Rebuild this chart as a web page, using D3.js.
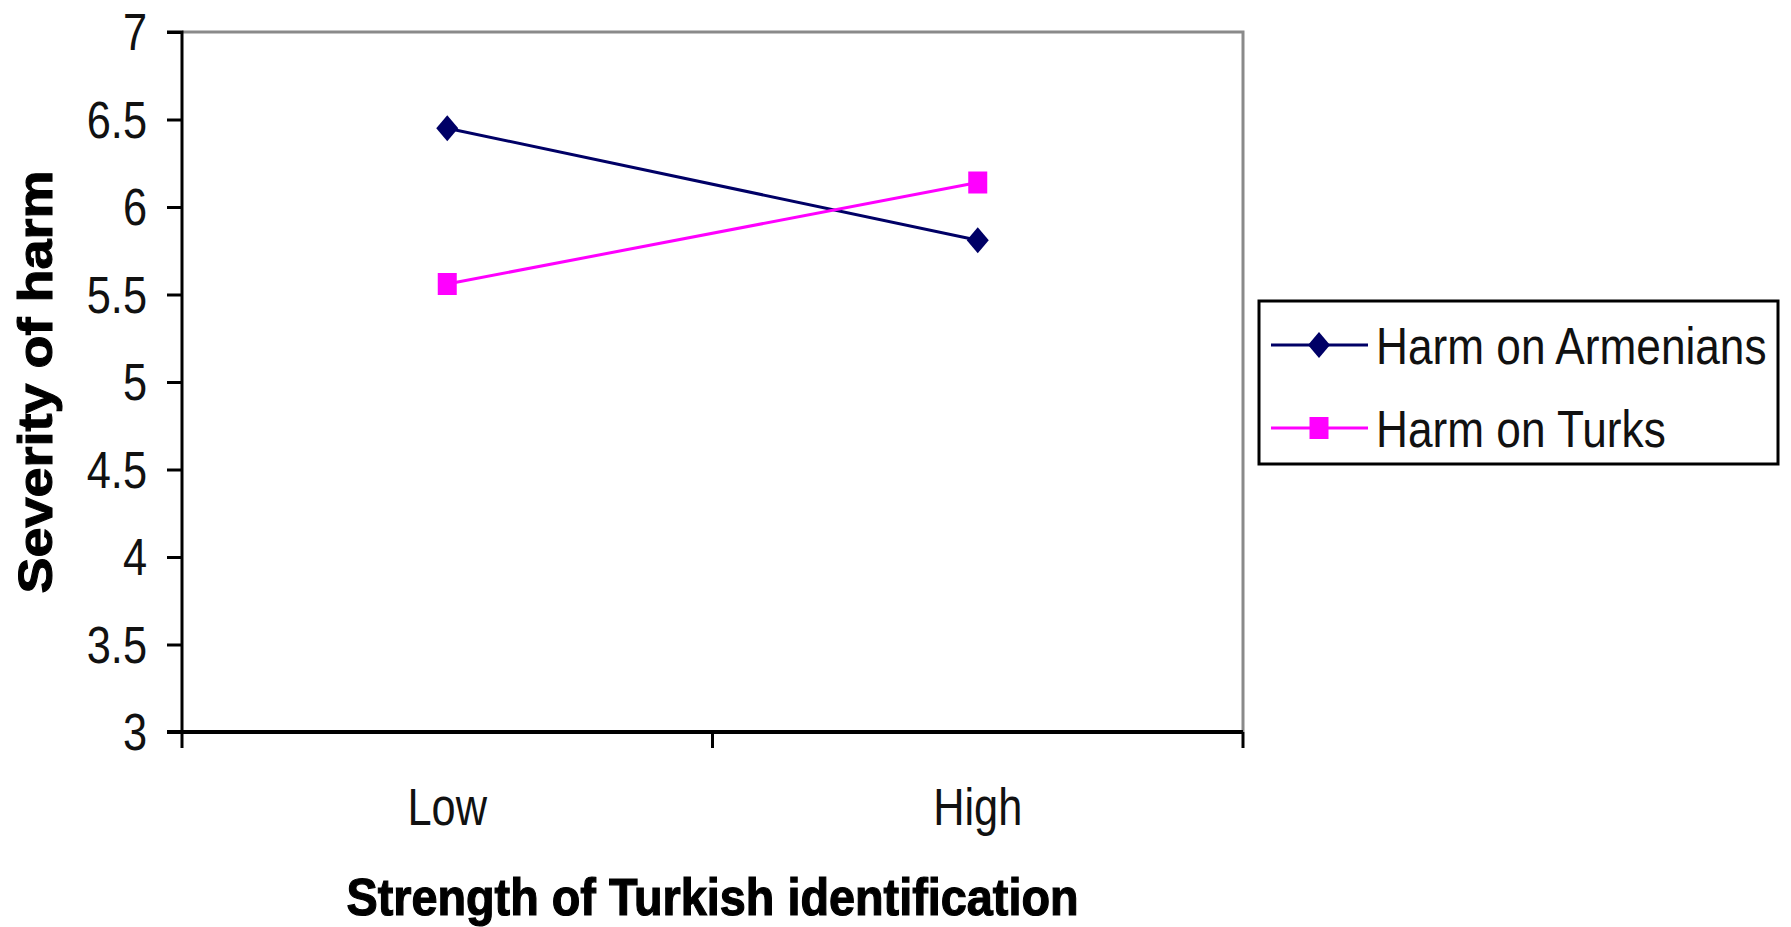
<!DOCTYPE html>
<html>
<head>
<meta charset="utf-8">
<script src="https://cdn.jsdelivr.net/npm/d3@7"></script>
<style>
  body { margin: 0; background: #fff; }
  svg { display: block; font-family: "Liberation Sans", Arial, sans-serif; }
</style>
</head>
<body>
<div id="chart"></div>
<script>
const categories = ['Low', 'High'];
const seriesNames = ['Harm on Armenians', 'Harm on Turks'];
const armenians = [6.45, 5.81];
const turks = [5.56, 6.14];
const yTicks = [3, 3.5, 4, 4.5, 5, 5.5, 6, 6.5, 7];

const W = 1791, H = 927;
const plot = { left: 182, top: 32, right: 1243, bottom: 732 };
const NARROW = 0.85; // text in the picture is horizontally squeezed

const series = [
  { name: seriesNames[0], values: armenians, color: '#000066', marker: 'diamond' },
  { name: seriesNames[1], values: turks, color: '#FF00FF', marker: 'square' },
];

const svg = d3.select('#chart').append('svg')
  .attr('width', W)
  .attr('height', H);

const x = d3.scaleBand().domain(categories).range([plot.left, plot.right]);
const y = d3.scaleLinear().domain([3, 7]).range([plot.bottom, plot.top]);

// Frame (top / right in grey)
svg.append('path')
  .attr('d', `M${plot.left},${plot.top}H${plot.right}V${plot.bottom}`)
  .attr('fill', 'none')
  .attr('stroke', '#8a8a8a')
  .attr('stroke-width', 3);

// Y axis
const yAxis = svg.append('g')
  .attr('transform', `translate(${plot.left},0)`)
  .call(d3.axisLeft(y).tickValues(yTicks).tickSize(15).tickFormat(d => String(d)));
yAxis.select('.domain').attr('stroke', '#000').attr('stroke-width', 3).attr('d', `M-15,${plot.top}H0V${plot.bottom}`);
yAxis.selectAll('.tick line').attr('stroke', '#000').attr('stroke-width', 3);
yAxis.selectAll('.tick text')
  .attr('x', -35 / NARROW)
  .attr('dy', '0.35em')
  .attr('transform', `scale(${NARROW},1)`)
  .attr('font-size', 51)
  .attr('font-family', '"Liberation Sans", Arial, sans-serif')
  .attr('fill', '#111');

// X axis: ticks sit between the categories
const xAxis = svg.append('g');
xAxis.append('line')
  .attr('x1', plot.left - 15).attr('x2', plot.right)
  .attr('y1', plot.bottom).attr('y2', plot.bottom)
  .attr('stroke', '#000').attr('stroke-width', 4);
const edges = categories.map(c => x(c)).concat([x.range()[1]]);
xAxis.selectAll('line.tick')
  .data(edges)
  .join('line')
  .attr('class', 'tick')
  .attr('x1', d => d).attr('x2', d => d)
  .attr('y1', plot.bottom).attr('y2', plot.bottom + 16)
  .attr('stroke', '#000').attr('stroke-width', 3);
xAxis.selectAll('text')
  .data(categories)
  .join('text')
  .attr('transform', d => `translate(${x(d) + x.bandwidth() / 2},${plot.bottom + 93}) scale(${NARROW},1)`)
  .attr('text-anchor', 'middle')
  .attr('font-size', 51)
  .attr('fill', '#111')
  .text(d => d);

// Axis titles (heavy bold)
svg.append('text')
  .attr('transform', `translate(${(plot.left + plot.right) / 2},915) scale(0.9,1)`)
  .attr('text-anchor', 'middle')
  .attr('font-size', 52)
  .attr('font-weight', 'bold')
  .attr('fill', '#000')
  .attr('stroke', '#000')
  .attr('stroke-width', 1.2)
  .text('Strength of Turkish identification');

svg.append('text')
  .attr('transform', `translate(52,${(plot.top + plot.bottom) / 2}) scale(0.9,1) rotate(-90)`)
  .attr('text-anchor', 'middle')
  .attr('font-size', 54)
  .attr('font-weight', 'bold')
  .attr('fill', '#000')
  .attr('stroke', '#000')
  .attr('stroke-width', 1.2)
  .text('Severity of harm');

// Markers
function drawMarker(sel, kind, color) {
  if (kind === 'diamond') {
    sel.append('path')
      .attr('d', 'M0,-13L11,0L0,13L-11,0Z')
      .attr('fill', color);
  } else {
    sel.append('rect')
      .attr('x', -9.5).attr('y', -11)
      .attr('width', 19).attr('height', 22)
      .attr('fill', color);
  }
}

const line = d3.line()
  .x((d, i) => x(categories[i]) + x.bandwidth() / 2)
  .y(d => y(d));

series.forEach(s => {
  svg.append('path')
    .datum(s.values)
    .attr('d', line)
    .attr('fill', 'none')
    .attr('stroke', s.color)
    .attr('stroke-width', 3);
  s.values.forEach((v, i) => {
    const g = svg.append('g')
      .attr('transform', `translate(${x(categories[i]) + x.bandwidth() / 2},${y(v)})`);
    drawMarker(g, s.marker, s.color);
  });
});

// Legend
const legend = svg.append('g');
legend.append('rect')
  .attr('x', 1259).attr('y', 301)
  .attr('width', 519).attr('height', 163)
  .attr('fill', '#fff')
  .attr('stroke', '#000')
  .attr('stroke-width', 3);

series.forEach((s, i) => {
  const row = legend.append('g').attr('transform', `translate(0,${345 + i * 83})`);
  row.append('line')
    .attr('x1', 1271).attr('x2', 1368)
    .attr('stroke', s.color).attr('stroke-width', 3);
  drawMarker(row.append('g').attr('transform', 'translate(1319,0)'), s.marker, s.color);
  row.append('text')
    .attr('transform', `translate(1376,0) scale(${NARROW},1)`)
    .attr('dy', '0.36em')
    .attr('font-size', 52)
    .attr('fill', '#111')
    .text(s.name);
});
</script>
</body>
</html>
